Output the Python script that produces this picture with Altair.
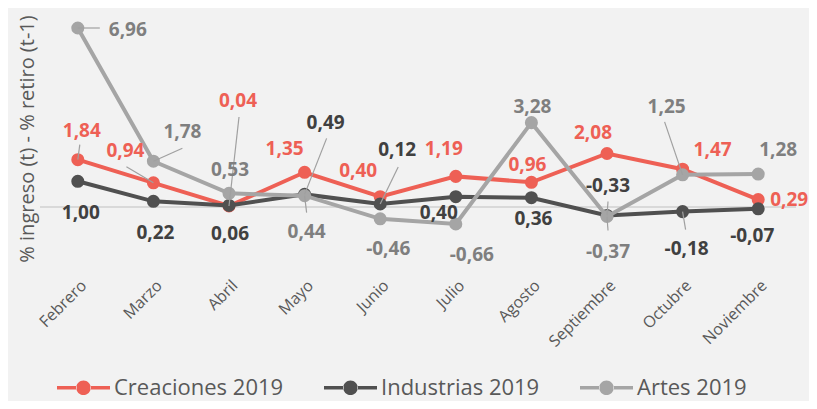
import json
import altair as alt
import pandas as pd

# ---------------- data ----------------
months = ["Febrero", "Marzo", "Abril", "Mayo", "Junio", "Julio",
          "Agosto", "Septiembre", "Octubre", "Noviembre"]
series_names = ["Creaciones 2019", "Industrias 2019", "Artes 2019"]
creaciones = [1.84, 0.94, 0.04, 1.35, 0.40, 1.19, 0.96, 2.08, 1.47, 0.29]
industrias = [1.00, 0.22, 0.06, 0.49, 0.12, 0.40, 0.36, -0.33, -0.18, -0.07]
artes = [6.96, 1.78, 0.53, 0.44, -0.46, -0.66, 3.28, -0.37, 1.25, 1.28]

# ---------------- styling ----------------
line_colors = ["#EE6055", "#505050", "#A5A5A5"]
label_colors = ["#EE6055", "#404040", "#7F7F7F"]

# data-label offsets (pixels, from the marker centre)
creaciones_lbl = [(4, -29), (-28, -32), (9, -105), (-20, -23), (-22, -26),
                  (-12, -27), (-4, -17), (-14, -21), (30, -19), (31, 0)]
industrias_lbl = [(3, 32), (2, 32), (1, 29), (21, -71), (17, -54),
                  (-17, 16), (2, 21), (1, -29), (4, 37), (-6, 27)]
artes_lbl = [(50, 2), (29, -29), (1, -23), (2, 36), (8, 30),
             (16, 31), (1, -16), (1, 35), (-16, -68), (20, -24)]
# leader lines (pixels, from the marker centre to the end near the label)
leaders = {
    (0, 0): (2, -15), (0, 1): (-27, -16), (0, 2): (10, -89),
    (1, 3): (22, -56), (1, 4): (18, -37), (1, 7): (1, -14), (1, 8): (3, 18),
    (2, 0): (22, 0), (2, 1): (29, -13), (2, 3): (2, 17), (2, 7): (1, 14),
    (2, 8): (-18, -53),
}

W, H = 756, 260
Y_MIN, Y_MAX = -2.45, 7.66
PX_X = W / 10.0
PX_Y = H / (Y_MAX - Y_MIN)

FONT = "Open Sans"
AXIS_GRAY = "#595959"

rows = []
all_vals = [creaciones, industrias, artes]
all_lbl = [creaciones_lbl, industrias_lbl, artes_lbl]
for s, name in enumerate(series_names):
    for i, m in enumerate(months):
        v = all_vals[s][i]
        dx, dy = all_lbl[s][i]
        ld = leaders.get((s, i))
        rows.append({
            "series": name, "sidx": s, "idx": i, "month": m, "value": v,
            "label": f"{v:.2f}".replace(".", ","),
            "lx": i + dx / PX_X, "ly": v - dy / PX_Y,
            "has_leader": ld is not None,
            "ex": i + (ld[0] / PX_X if ld else 0),
            "ey": v - (ld[1] / PX_Y if ld else 0),
        })
df = pd.DataFrame(rows)

xscale = alt.Scale(domain=[-0.5, 9.5], nice=False, zero=False)
yscale = alt.Scale(domain=[Y_MIN, Y_MAX], nice=False, zero=False)
color_scale = alt.Scale(domain=series_names, range=line_colors)

label_expr = json.dumps(months) + "[datum.value]"
x_axis = alt.Axis(values=list(range(10)), labelExpr=label_expr, labelAngle=-45,
                  ticks=False, domain=False, grid=False, title=None,
                  labelFont=FONT, labelFontSize=16, labelColor=AXIS_GRAY,
                  labelPadding=7)
y_axis = alt.Axis(title="% ingreso (t) - % retiro (t-1)", labels=False,
                  ticks=False, domain=False, grid=False,
                  titleX=-7, titleY=128.5, titleAngle=270, titleAlign="center",
                  titleBaseline="alphabetic", titleFont=FONT, titleFontSize=20,
                  titleFontWeight="normal", titleColor=AXIS_GRAY)


def X(field):
    return alt.X(f"{field}:Q", scale=xscale, axis=x_axis)


def Y(field):
    return alt.Y(f"{field}:Q", scale=yscale, axis=y_axis)


base = alt.Chart(df)

zero = alt.Chart(pd.DataFrame({"z": [0.0]})).mark_rule(
    color="#D9D9D9", strokeWidth=2).encode(y=Y("z"))

sym_path = ("M-1,-0.066H-0.25V0.066H-1Z M0.25,-0.066H1V0.066H0.25Z "
            "M-0.275,0A0.275,0.275,0,1,0,0.275,0A0.275,0.275,0,1,0,-0.275,0Z")
legend = alt.Legend(title=None, orient="none", legendX=17, legendY=351,
                    direction="horizontal", symbolType=sym_path,
                    symbolSize=2809, symbolStrokeWidth=0, symbolOpacity=1,
                    labelFont=FONT, labelFontSize=22, labelColor=AXIS_GRAY,
                    labelLimit=400, labelOffset=4, columnPadding=40,
                    padding=0)

layers = [zero]
for s, name in enumerate(series_names):
    sub = base.transform_filter(alt.datum.sidx == s)
    layers.append(sub.mark_line(strokeWidth=4, color=line_colors[s]).encode(
        x=X("idx"), y=Y("value")))
    layers.append(sub.mark_point(filled=True, size=170, opacity=1).encode(
        x=X("idx"), y=Y("value"),
        fill=alt.Fill("series:N", scale=color_scale, legend=legend)))

lead = base.transform_filter(alt.datum.has_leader).mark_rule(
    color="#A0A0A0", strokeWidth=1.2).encode(
    x=X("idx"), y=Y("value"), x2="ex:Q", y2="ey:Q")
layers.append(lead)

for s, name in enumerate(series_names):
    layers.append(base.transform_filter(alt.datum.sidx == s).mark_text(
        font=FONT, fontSize=19, fontWeight="bold", color=label_colors[s],
        align="center", baseline="middle").encode(
        x=X("lx"), y=Y("ly"), text="label:N"))

chart = alt.layer(*layers).properties(
    width=W, height=H,
    autosize=alt.AutoSizeParams(type="none"),
    padding={"left": 32, "top": 2, "right": 13, "bottom": 131},
    background="#F2F2F2",
).configure_view(stroke=None)

chart.save("out.html", embed_options={"renderer": "svg", "actions": False})
